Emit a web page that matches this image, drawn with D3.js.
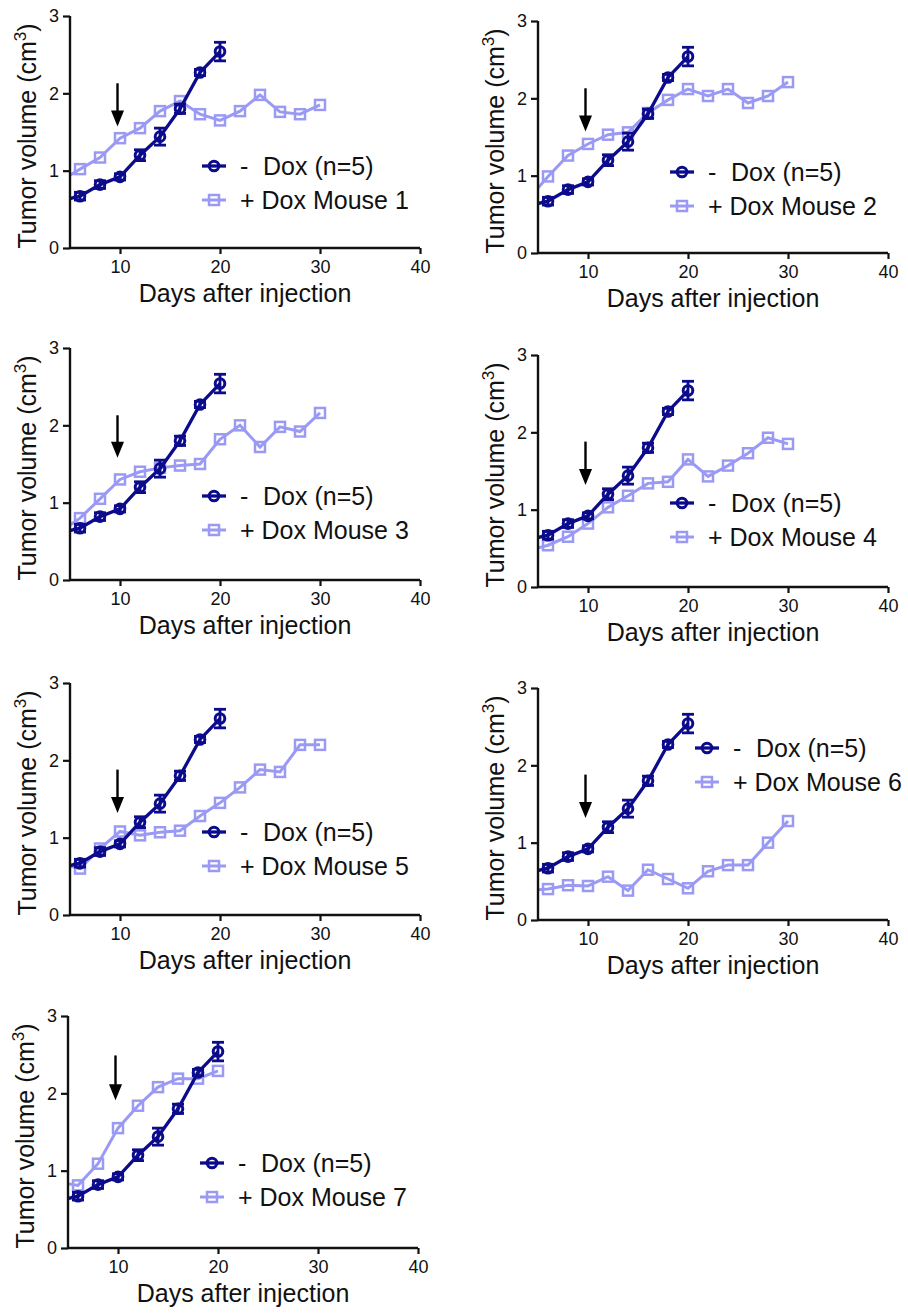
<!DOCTYPE html>
<html>
<head>
<meta charset="utf-8">
<script src="https://cdn.jsdelivr.net/npm/d3@7"></script>
<style>
  body { margin: 0; background: #fff; }
  svg { display: block; font-family: "Liberation Sans", Arial, sans-serif; }
</style>
</head>
<body>
<div id="chart-area"></div>
<script>
// day 4 points fall left of the axis start and are clipped, as in the original
var controlDays = [4, 6, 8, 10, 12, 14, 16, 18, 20];
var controlMean = [0.61, 0.67, 0.82, 0.92, 1.20, 1.44, 1.80, 2.27, 2.54];
var controlSem = [0.05, 0.05, 0.05, 0.04, 0.07, 0.11, 0.06, 0.04, 0.12];

var doxDays = [4, 6, 8, 10, 12, 14, 16, 18, 20, 22, 24, 26, 28, 30];
var doxDays7 = [4, 6, 8, 10, 12, 14, 16, 18, 20];

var mouse1 = [0.86, 1.02, 1.17, 1.42, 1.55, 1.77, 1.90, 1.73, 1.65, 1.77, 1.98, 1.76, 1.73, 1.85];
var mouse2 = [0.69, 0.99, 1.26, 1.41, 1.53, 1.56, 1.81, 1.98, 2.12, 2.03, 2.12, 1.94, 2.03, 2.21];
var mouse3 = [0.62, 0.80, 1.05, 1.30, 1.40, 1.45, 1.48, 1.50, 1.82, 2.00, 1.72, 1.98, 1.92, 2.16];
var mouse4 = [0.47, 0.54, 0.65, 0.82, 1.03, 1.18, 1.34, 1.36, 1.65, 1.43, 1.57, 1.73, 1.93, 1.85];
var mouse5 = [0.67, 0.60, 0.86, 1.08, 1.03, 1.07, 1.09, 1.28, 1.45, 1.65, 1.88, 1.85, 2.20, 2.20];
var mouse6 = [0.38, 0.40, 0.45, 0.44, 0.56, 0.38, 0.65, 0.53, 0.41, 0.63, 0.71, 0.71, 1.00, 1.28];
var mouse7 = [0.85, 0.81, 1.09, 1.55, 1.84, 2.08, 2.19, 2.19, 2.29];

var mouseLabels = ["+ Dox Mouse 1", "+ Dox Mouse 2", "+ Dox Mouse 3", "+ Dox Mouse 4",
    "+ Dox Mouse 5", "+ Dox Mouse 6", "+ Dox Mouse 7"];
var controlLabel = "Dox (n=5)";

// Dox start arrow (day, top value, tip value) per panel
var arrowDay = 9.75;
var arrowTop = [2.13, 2.13, 2.13, 1.88, 1.88, 1.88, 2.49];
var arrowTip = [1.57, 1.57, 1.58, 1.32, 1.32, 1.32, 1.91];

var xTicks = [10, 20, 30, 40];
var yTicks = [0, 1, 2, 3];

var panels = [
    { days: doxDays, values: mouse1, left: 70, top: 16, legendX: 132, legendY: 150 },
    { days: doxDays, values: mouse2, left: 538, top: 21, legendX: 132, legendY: 151 },
    { days: doxDays, values: mouse3, left: 70, top: 348, legendX: 132, legendY: 148 },
    { days: doxDays, values: mouse4, left: 538, top: 355, legendX: 132, legendY: 148 },
    { days: doxDays, values: mouse5, left: 70, top: 683, legendX: 132, legendY: 149 },
    { days: doxDays, values: mouse6, left: 538, top: 688, legendX: 157, legendY: 60 },
    { days: doxDays7, values: mouse7, left: 68, top: 1016, legendX: 132, legendY: 147 }
];

var dims = { width: 350, height: 232 };
var darkColor = "#0b0b8c";
var lightColor = "#9a9af5";
var textColor = "#111";

var svg = d3.select("#chart-area")
    .append("svg")
    .attr("width", 908)
    .attr("height", 1313);

var defs = svg.append("defs");

var x = d3.scaleLinear().domain([5, 40]).range([0, dims.width]);
var y = d3.scaleLinear().domain([0, 3]).range([dims.height, 0]);

function drawCircle(g, cx, cy) {
    g.append("circle")
        .attr("cx", cx)
        .attr("cy", cy)
        .attr("r", 4.8)
        .attr("fill", "none")
        .attr("stroke", darkColor)
        .attr("stroke-width", 3);
}

function drawSquare(g, cx, cy) {
    g.append("rect")
        .attr("x", cx - 5)
        .attr("y", cy - 5)
        .attr("width", 10)
        .attr("height", 10)
        .attr("fill", "none")
        .attr("stroke", lightColor)
        .attr("stroke-width", 2.5);
}

panels.forEach(function (p, i) {
    var g = svg.append("g")
        .attr("transform", "translate(" + p.left + "," + p.top + ")");

    var clipId = "clip" + i;
    defs.append("clipPath")
        .attr("id", clipId)
        .append("rect")
        .attr("x", 0)
        .attr("y", -20)
        .attr("width", dims.width + 20)
        .attr("height", dims.height + 20);

    var plot = g.append("g").attr("clip-path", "url(#" + clipId + ")");

    var line = d3.line()
        .x(function (d) { return x(d[0]); })
        .y(function (d) { return y(d[1]); });

    // + Dox mouse
    var doxPts = p.days.map(function (d, k) { return [d, p.values[k]]; });
    plot.append("path")
        .datum(doxPts)
        .attr("d", line)
        .attr("fill", "none")
        .attr("stroke", lightColor)
        .attr("stroke-width", 3);
    doxPts.forEach(function (d) { drawSquare(plot, x(d[0]), y(d[1])); });

    // - Dox mean with SEM
    var ctlPts = controlDays.map(function (d, k) { return [d, controlMean[k], controlSem[k]]; });
    plot.append("path")
        .datum(ctlPts)
        .attr("d", line)
        .attr("fill", "none")
        .attr("stroke", darkColor)
        .attr("stroke-width", 3.3);
    ctlPts.forEach(function (d) {
        var cx = x(d[0]);
        var hi = y(d[1] + d[2]);
        var lo = y(d[1] - d[2]);
        plot.append("line")
            .attr("x1", cx).attr("x2", cx)
            .attr("y1", hi).attr("y2", lo)
            .attr("stroke", darkColor).attr("stroke-width", 2.8);
        [hi, lo].forEach(function (yy) {
            plot.append("line")
                .attr("x1", cx - 6).attr("x2", cx + 6)
                .attr("y1", yy).attr("y2", yy)
                .attr("stroke", darkColor).attr("stroke-width", 2.8);
        });
        drawCircle(plot, cx, y(d[1]));
    });

    // arrow
    g.append("line")
        .attr("x1", x(arrowDay))
        .attr("x2", x(arrowDay))
        .attr("y1", y(arrowTop[i]))
        .attr("y2", y(arrowTip[i]) - 14)
        .attr("stroke", "black")
        .attr("stroke-width", 2.4);
    g.append("path")
        .attr("d", "M" + (x(arrowDay) - 6.5) + "," + (y(arrowTip[i]) - 16) +
            " L" + (x(arrowDay) + 6.5) + "," + (y(arrowTip[i]) - 16) +
            " L" + x(arrowDay) + "," + y(arrowTip[i]) + " Z")
        .attr("fill", "black");

    // axes
    var xAxis = g.append("g")
        .attr("transform", "translate(0," + dims.height + ")")
        .call(d3.axisBottom(x).tickValues(xTicks).tickFormat(d3.format("d"))
            .tickSize(6).tickPadding(6).tickSizeOuter(0));
    var yAxis = g.append("g")
        .call(d3.axisLeft(y).tickValues(yTicks).tickFormat(d3.format("d"))
            .tickSize(7).tickPadding(4).tickSizeOuter(0));
    [xAxis, yAxis].forEach(function (a) {
        a.select(".domain").attr("stroke", textColor).attr("stroke-width", 2.4);
        a.selectAll(".tick line").attr("stroke", textColor).attr("stroke-width", 2.2);
        a.selectAll(".tick text")
            .attr("fill", textColor)
            .style("font-family", "'Liberation Sans', Arial, sans-serif")
            .style("font-size", "18px");
    });
    xAxis.select(".domain").attr("d", "M0,0H" + dims.width);
    yAxis.select(".domain").attr("d", "M0,0V" + dims.height);

    g.append("text")
        .attr("x", dims.width / 2)
        .attr("y", dims.height + 54)
        .attr("text-anchor", "middle")
        .attr("font-size", 25)
        .attr("fill", textColor)
        .text("Days after injection");

    var yl = g.append("text")
        .attr("transform", "translate(-34," + (dims.height / 2 + 4) + ") rotate(-90)")
        .attr("text-anchor", "middle")
        .attr("font-size", 25)
        .attr("fill", textColor);
    yl.append("tspan").text("Tumor volume (cm");
    yl.append("tspan").attr("font-size", 17).attr("dy", -10).text("3");
    yl.append("tspan").attr("dy", 10).text(")");

    // legend
    var lg = g.append("g").attr("transform", "translate(" + p.legendX + "," + p.legendY + ")");
    lg.append("line").attr("x1", 0).attr("x2", 24).attr("y1", 0).attr("y2", 0)
        .attr("stroke", darkColor).attr("stroke-width", 3.3);
    drawCircle(lg, 12, 0);
    lg.append("line").attr("x1", 0).attr("x2", 24).attr("y1", 34).attr("y2", 34)
        .attr("stroke", lightColor).attr("stroke-width", 3);
    drawSquare(lg, 12, 34);
    lg.append("text").attr("x", 38).attr("y", 9)
        .attr("font-size", 25).attr("fill", textColor)
        .text("-");
    lg.append("text").attr("x", 61).attr("y", 9)
        .attr("font-size", 25).attr("fill", textColor)
        .text(controlLabel);
    lg.append("text").attr("x", 38).attr("y", 43)
        .attr("font-size", 25).attr("fill", textColor)
        .text(mouseLabels[i]);
});
</script>
</body>
</html>
